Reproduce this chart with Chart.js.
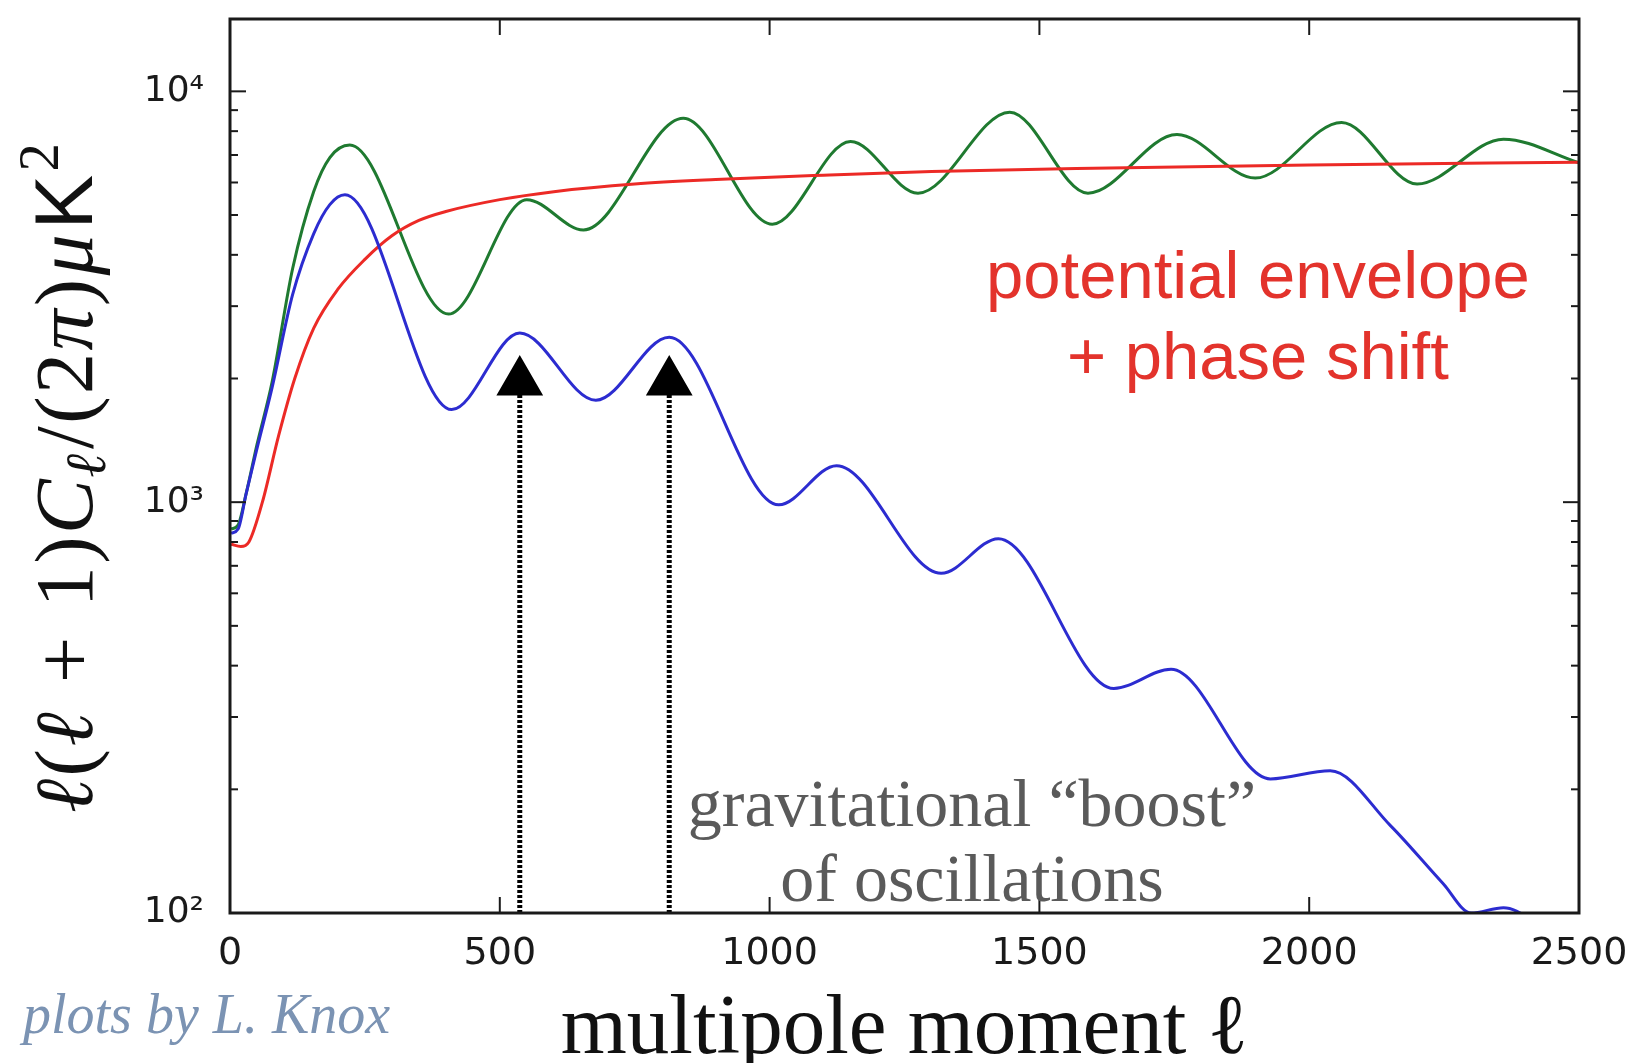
<!DOCTYPE html>
<html>
<head>
<meta charset="utf-8">
<script src="https://cdn.jsdelivr.net/npm/chart.js@4.4.1/dist/chart.umd.min.js"></script>
<style>
  html, body { margin: 0; padding: 0; background: #fff; }
  #wrap { width: 1640px; height: 1063px; position: relative; }
</style>
</head>
<body>
<div id="wrap"><canvas id="cmbChart"></canvas></div>
<script>
// === DATA (rise, then peaks and troughs) ===
// green: oscillations with potential envelope + phase shift
const totalEll = [2, 15, 30, 50, 78, 116, 155, 185, 222, 405, 550, 655, 840, 1005, 1150, 1275, 1445, 1590, 1755, 1900, 2060, 2200, 2360, 2500];
const totalCl = [860, 880, 1050, 1380, 1960, 3700, 5700, 6900, 7400, 2870, 5450, 4600, 8600, 4750, 7550, 5650, 8900, 5650, 7850, 6150, 8400, 5950, 7650, 6700];

// red: potential envelope
const envEll = [2, 20, 35, 60, 90, 120, 155, 200, 250, 300, 350, 400, 500, 600, 750, 900, 1100, 1300, 1600, 2000, 2500];
const envCl = [790, 780, 800, 1000, 1450, 2000, 2650, 3300, 3900, 4450, 4850, 5100, 5450, 5700, 5950, 6100, 6250, 6380, 6500, 6620, 6720];

// blue: acoustic oscillations
const acoEll = [2, 15, 30, 50, 78, 116, 155, 185, 213, 411, 537, 678, 814, 1017, 1124, 1318, 1424, 1638, 1744, 1928, 2039, 2151, 2248, 2300, 2360, 2420, 2500];
const acoCl = [840, 860, 1050, 1350, 1900, 3200, 4500, 5300, 5600, 1680, 2580, 1770, 2520, 985, 1227, 671, 815, 352, 392, 212, 222, 163, 118, 100, 103, 95, 80];

// arrows ("boost" of the odd peaks)
const arrowEll = [537, 814];
const arrowTop = 1960;

const xTicks = [0, 500, 1000, 1500, 2000, 2500];
const yTicks = [100, 1000, 10000];
const yTickLabels = ["10\u00b2", "10\u00b3", "10\u2074"];
const yMinor = [200, 300, 400, 500, 600, 700, 800, 900, 2000, 3000, 4000, 5000, 6000, 7000, 8000, 9000];

const toPoints = (xs, ys) => xs.map((x, i) => ({ x: x, y: ys[i] }));

// y axis title pieces: [text, font, size factor, baseline shift (em, + = down), gap before (em)]
const F = 82;
const SERIF = "'Liberation Serif', 'DejaVu Serif', serif";
const yTitleParts = [
  ["\u2113", "italic", 1, 0, 0],
  ["(", "", 1, 0, 0.03],
  ["\u2113", "italic", 1, 0, 0.03],
  ["+", "", 1, 0, 0.36],
  ["1", "", 1, 0, 0.36],
  [")", "", 1, 0, 0.03],
  ["C", "italic", 1, 0, 0.03],
  ["\u2113", "italic", 0.7, 0.16, 0.02],
  ["/", "", 1, 0, 0.06],
  ["(", "", 1, 0, 0.03],
  ["2", "", 1, 0, 0.03],
  ["\u03c0", "italic", 1, 0, 0.03],
  [")", "", 1, 0, 0.04],
  ["\u03bc", "italic", 1, 0, 0.04],
  ["K", "sans", 1, 0, 0.06],
  ["2", "", 0.7, -0.42, 0.04]
];

function partFont(p) {
  const size = Math.round(F * p[2]);
  if (p[1] === "sans") return size + "px 'Liberation Sans', Arial, sans-serif";
  return (p[1] ? p[1] + " " : "") + size + "px " + SERIF;
}

// === FRAME, INNER TICKS, NOTES ===
const frameAndNotes = {
  id: "frameAndNotes",
  afterDatasetsDraw(chart) {
    const { ctx, chartArea: a, scales: { x, y } } = chart;
    const seg = (x1, y1, x2, y2) => { ctx.beginPath(); ctx.moveTo(x1, y1); ctx.lineTo(x2, y2); ctx.stroke(); };
    ctx.save();
    ctx.strokeStyle = "#1a1a1a";
    ctx.lineWidth = 2;
    xTicks.forEach(v => {
      const px = x.getPixelForValue(v);
      seg(px, a.bottom, px, a.bottom - 16);
      seg(px, a.top, px, a.top + 16);
    });
    yTicks.forEach(v => {
      const py = y.getPixelForValue(v);
      seg(a.left, py, a.left + 16, py);
      seg(a.right, py, a.right - 16, py);
    });
    yMinor.forEach(v => {
      const py = y.getPixelForValue(v);
      seg(a.left, py, a.left + 8, py);
      seg(a.right, py, a.right - 8, py);
    });
    ctx.lineWidth = 3;
    ctx.strokeRect(a.left, a.top, a.right - a.left, a.bottom - a.top);

    // red note
    ctx.textAlign = "center";
    ctx.textBaseline = "alphabetic";
    ctx.fillStyle = "#e3332c";
    ctx.font = "67px 'Liberation Sans', Arial, sans-serif";
    ctx.fillText("potential envelope", x.getPixelForValue(1905), y.getPixelForValue(3133));
    ctx.fillText("+ phase shift", x.getPixelForValue(1905), y.getPixelForValue(1991));

    // grey note
    ctx.fillStyle = "#5a5a5a";
    ctx.font = "68px " + SERIF;
    ctx.fillText("gravitational \u201cboost\u201d", x.getPixelForValue(1375), y.getPixelForValue(163));
    ctx.fillText("of oscillations", x.getPixelForValue(1375), y.getPixelForValue(107));

    // credit
    ctx.textAlign = "left";
    ctx.fillStyle = "#7b93b3";
    ctx.font = "italic 56px " + SERIF;
    ctx.fillText("plots by L. Knox", 23, 1033);

    // y axis title, drawn piece by piece, rotated
    ctx.fillStyle = "#111";
    let total = 0;
    const widths = yTitleParts.map(p => {
      ctx.font = partFont(p);
      const w = ctx.measureText(p[0]).width;
      total += w + p[4] * F;
      return w;
    });
    ctx.translate(92, (a.top + a.bottom) / 2 + 12);
    ctx.rotate(-Math.PI / 2);
    let cx = -total / 2;
    yTitleParts.forEach((p, i) => {
      cx += p[4] * F;
      ctx.font = partFont(p);
      ctx.fillText(p[0], cx, p[3] * F);
      cx += widths[i];
    });
    ctx.restore();
  }
};

const arrowSet = ell => ({
  data: [{ x: ell, y: 100 }, { x: ell, y: arrowTop }],
  borderColor: "#000",
  borderWidth: 5,
  borderDash: [3, 2],
  pointRadius: [0, 22],
  pointStyle: "triangle",
  pointBackgroundColor: "#000",
  pointBorderColor: "#000",
  tension: 0
});

const curve = (xs, ys, color) => ({
  data: toPoints(xs, ys),
  borderColor: color,
  borderWidth: 3,
  pointRadius: 0,
  fill: false,
  cubicInterpolationMode: "monotone"
});

new Chart(document.getElementById("cmbChart"), {
  type: "line",
  data: {
    datasets: [
      curve(acoEll, acoCl, "#2c2cd0"),
      curve(envEll, envCl, "#ec2a26"),
      curve(totalEll, totalCl, "#1f7a30"),
      arrowSet(arrowEll[0]),
      arrowSet(arrowEll[1])
    ]
  },
  options: {
    responsive: true,
    maintainAspectRatio: false,
    animation: false,
    layout: { autoPadding: false, padding: { top: 19, right: 61, left: 0, bottom: 0 } },
    plugins: { legend: { display: false }, tooltip: { enabled: false } },
    scales: {
      x: {
        type: "linear",
        min: 0,
        max: 2500,
        afterBuildTicks: s => { s.ticks = xTicks.map(v => ({ value: v })); },
        afterFit: s => { s.height = 150; s.paddingLeft = 0; s.paddingRight = 0; },
        grid: { display: false, drawTicks: false },
        border: { display: false },
        ticks: {
          font: { family: "DejaVu Sans", size: 38 },
          color: "#1a1a1a",
          padding: 18,
          maxRotation: 0,
          autoSkip: false,
          callback: v => String(v)
        },
        title: {
          display: true,
          text: "multipole moment \u2113",
          font: { family: SERIF, size: 85, lineHeight: 0.76 },
          color: "#111",
          padding: { top: 0, bottom: 0 }
        }
      },
      y: {
        type: "logarithmic",
        min: 100,
        max: 15000,
        afterBuildTicks: s => { s.ticks = yTicks.map(v => ({ value: v })); },
        afterFit: s => { s.width = 230; s.paddingTop = 0; s.paddingBottom = 0; },
        grid: { display: false, drawTicks: false },
        border: { display: false },
        ticks: {
          font: { family: "DejaVu Sans", size: 36 },
          color: "#1a1a1a",
          padding: 26,
          autoSkip: false,
          callback: (v, i) => yTickLabels[i]
        }
      }
    }
  },
  plugins: [frameAndNotes]
});
</script>
</body>
</html>
